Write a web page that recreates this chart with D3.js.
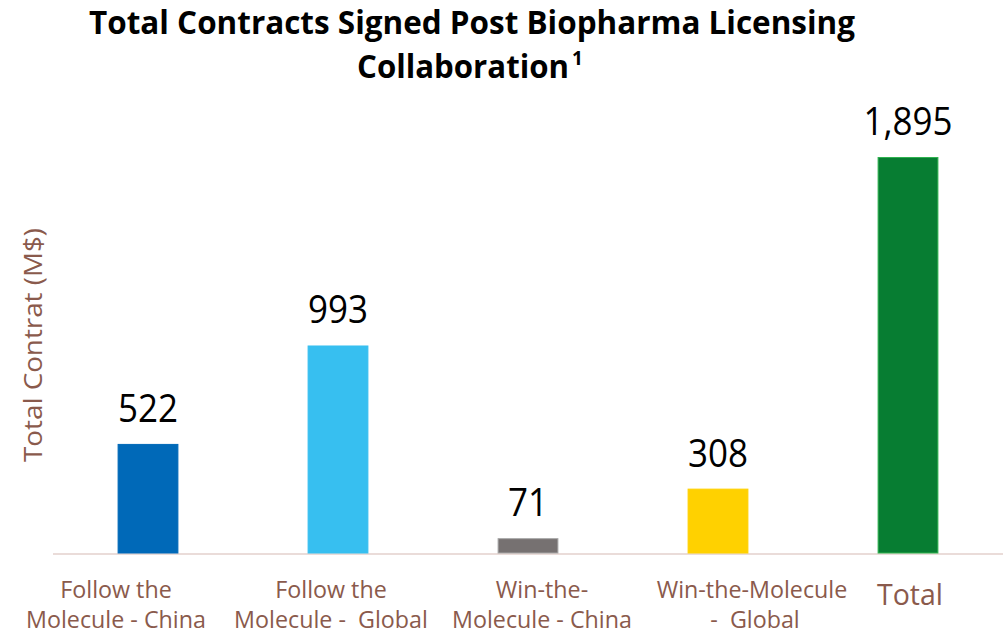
<!DOCTYPE html>
<html>
<head>
<meta charset="utf-8">
<script src="https://cdn.jsdelivr.net/npm/d3@7"></script>
<style>
  html, body { margin: 0; padding: 0; background: #ffffff; }
  svg { display: block; }
</style>
</head>
<body>
<svg id="chart" width="1003" height="633"></svg>
<script>
// ---- data ----
const categories = [
  ["Follow the", "Molecule - China"],
  ["Follow the", "Molecule -  Global"],
  ["Win-the-", "Molecule - China"],
  ["Win-the-Molecule", " -  Global"],
  ["Total"]
];
const values = [522, 993, 71, 308, 1895];
const valueLabels = ["522", "993", "71", "308", "1,895"];
const barColors = ["#0069b8", "#37bff0", "#767171", "#ffd100", "#077d32"];
const barEdges = ["#0069b8", "#37bff0", "#a6a6a6", "#ffd100", "#2fb24f"];
const titleLines = ["Total Contracts Signed Post Biopharma Licensing", "Collaboration"];
const titleNote = "1";
const yTitle = "Total Contrat (M$)";
// layout tweak: horizontal offset of category labels from bar centre (px)
const labelShift = [-32, -7, 14, 34, 2];

// ---- layout ----
const svg = d3.select("#chart");
const baseY = 553;
const x = d3.scaleBand()
  .domain(d3.range(values.length))
  .range([53, 1003])
  .paddingInner(0.68)
  .paddingOuter(0.34);
const y = d3.scaleLinear().domain([0, 1895]).range([baseY, 157]);

function condense(sel, factor) {
  sel.each(function() {
    const w = this.getComputedTextLength();
    d3.select(this).attr("textLength", w * factor).attr("lengthAdjust", "spacingAndGlyphs");
  });
}
function fitTo(sel, target) {
  sel.attr("textLength", target).attr("lengthAdjust", "spacingAndGlyphs");
}

// title
const t1 = svg.append("text")
  .attr("x", 472).attr("y", 34)
  .attr("text-anchor", "middle")
  .attr("font-family", "Open Sans")
  .attr("font-weight", "bold")
  .attr("font-size", 33)
  .attr("fill", "#000")
  .text(titleLines[0]);
fitTo(t1, 766);
const t2 = svg.append("text")
  .attr("x", 357).attr("y", 78)
  .attr("font-family", "Open Sans")
  .attr("font-weight", "bold")
  .attr("font-size", 33)
  .attr("fill", "#000");
const t2main = t2.append("tspan").text(titleLines[1]);
fitTo(t2main, 212);
t2.append("tspan")
  .attr("dx", 3)
  .attr("dy", -13)
  .attr("font-size", 19)
  .text(titleNote);

// y axis title
const yt = svg.append("text")
  .attr("transform", "translate(42,345) rotate(-90)")
  .attr("text-anchor", "middle")
  .attr("font-family", "Open Sans")
  .attr("font-size", 25)
  .attr("fill", "#8a5a4c")
  .text(yTitle);
fitTo(yt, 234);

// baseline axis
svg.append("line")
  .attr("x1", 53).attr("x2", 1003)
  .attr("y1", baseY + 1).attr("y2", baseY + 1)
  .attr("stroke", "#eadcd9").attr("stroke-width", 2);

// bars
svg.selectAll("rect.bar")
  .data(values)
  .join("rect")
  .attr("class", "bar")
  .attr("x", (d, i) => x(i) + 0.5)
  .attr("width", x.bandwidth() - 1)
  .attr("y", d => y(d) + 0.5)
  .attr("height", d => baseY - y(d) - 0.5)
  .attr("fill", (d, i) => barColors[i])
  .attr("stroke", (d, i) => barEdges[i])
  .attr("stroke-width", 1);

// value labels
const vl = svg.selectAll("text.val")
  .data(values)
  .join("text")
  .attr("class", "val")
  .attr("x", (d, i) => x(i) + x.bandwidth() / 2)
  .attr("y", d => y(d) - 22)
  .attr("text-anchor", "middle")
  .attr("font-family", "Open Sans")
  .attr("font-size", 38)
  .attr("fill", "#000")
  .text((d, i) => valueLabels[i]);
condense(vl, 0.92);

// category labels
categories.forEach((lines, i) => {
  const cx = x(i) + x.bandwidth() / 2 + labelShift[i];
  if (lines.length === 1) {
    const t = svg.append("text")
      .attr("x", cx).attr("y", 605)
      .attr("text-anchor", "middle")
      .attr("font-family", "Open Sans")
      .attr("font-size", 30)
      .attr("fill", "#8a5a4c")
      .text(lines[0]);
    condense(t, 0.95);
  } else {
    lines.forEach((ln, j) => {
      const t = svg.append("text")
        .attr("x", cx).attr("y", 598 + j * 30)
        .attr("text-anchor", "middle")
        .attr("font-family", "Open Sans")
        .attr("font-size", 24)
        .attr("fill", "#8a5a4c")
        .attr("xml:space", "preserve")
        .style("white-space", "pre")
        .text(ln);
      condense(t, 0.97);
    });
  }
});
</script>
</body>
</html>
